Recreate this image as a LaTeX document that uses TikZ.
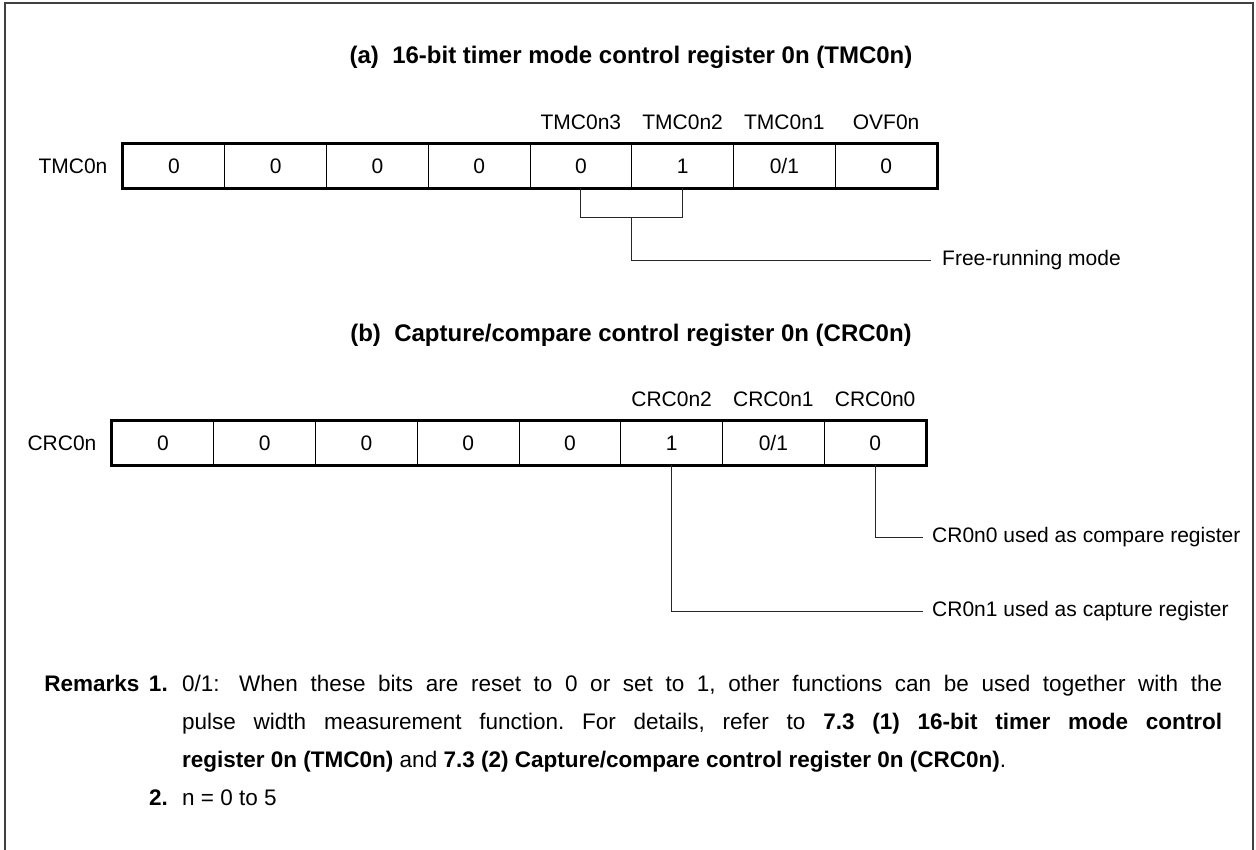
\documentclass[tikz,border=0pt]{standalone}
\usepackage{fontspec}
\setmainfont{Liberation Sans}
\usetikzlibrary{calc}
\newcommand\zeroone{0/1}
\newcommand\lblfont{\fontsize{21bp}{25bp}\selectfont}
\newcommand\remfont{\fontsize{22.5bp}{27bp}\selectfont}
\frenchspacing
\begin{document}
\begin{tikzpicture}[x=1bp,y=-1bp,
  cellbox/.style={draw, line width=0.8bp, minimum width=101.75bp, minimum height=44bp, inner sep=0pt, font=\lblfont},
  regbox/.style={line width=2.6bp},
  regname/.style={anchor=east, inner sep=0pt, font=\lblfont},
  bitname/.style={anchor=center, inner sep=0pt, font=\lblfont},
  conn/.style={line width=0.9bp, draw=black!85},
  desc/.style={anchor=west, inner xsep=9bp, inner ysep=0pt, font=\lblfont},
  titletext/.style={inner sep=0pt, font=\fontsize{24bp}{28bp}\selectfont\bfseries},
  remtext/.style={inner sep=0pt, font=\remfont},
  frame/.style={line width=2bp, draw=black!75}]
\useasboundingbox (0,0) rectangle (1256,850);
% outer frame (open at the bottom)
\draw[frame] (5,850) -- (5,3) -- (1253,3) -- (1253,850);

% (a) TMC0n
\node[titletext] (ta) at (631,57) {(a)\ \ 16-bit timer mode control register 0n (TMC0n)};
\foreach \i/\v in {1/0,2/0,3/0,4/0,5/0,6/1,7/\zeroone,8/0}
  \node[cellbox] (t\i) at ({123+(\i-0.5)*101.75},166) {\v};
\draw[regbox] (t1.north west) rectangle (t8.south east);
\node[regname] (tmc) at ([xshift=-15bp]t1.west) {TMC0n};
\node[bitname] (lt5) at ([yshift=21bp]t5.north) {TMC0n3};
\node[bitname] (lt6) at ([yshift=21bp]t6.north) {TMC0n2};
\node[bitname] (lt7) at ([yshift=21bp]t7.north) {TMC0n1};
\node[bitname] (lt8) at ([yshift=21bp]t8.north) {OVF0n};
\draw[conn] (t5.south) -- ++(0,29) -| (t6.south);
\coordinate (tj) at ($(t5.south)!0.5!(t6.south)+(0,29)$);
\node[desc, inner xsep=11bp] (fr) at (931,260) {Free-running mode};
\draw[conn] (tj) |- (fr.west);

% (b) CRC0n
\node[titletext] (tb) at (631,335) {(b)\ \ Capture/compare control register 0n (CRC0n)};
\foreach \i/\v in {1/0,2/0,3/0,4/0,5/0,6/1,7/\zeroone,8/0}
  \node[cellbox] (c\i) at ({112+(\i-0.5)*101.75},443) {\v};
\draw[regbox] (c1.north west) rectangle (c8.south east);
\node[regname] (crc) at ([xshift=-15bp]c1.west) {CRC0n};
\node[bitname] (lc6) at ([yshift=21bp]c6.north) {CRC0n2};
\node[bitname] (lc7) at ([yshift=21bp]c7.north) {CRC0n1};
\node[bitname] (lc8) at ([yshift=21bp]c8.north) {CRC0n0};
\node[desc] (cmp) at (923,537) {CR0n0 used as compare register};
\node[desc] (cap) at (923,611) {CR0n1 used as capture register};
\draw[conn] (c8.south) |- (cmp.west);
\draw[conn] (c6.south) |- (cap.west);

% Remarks
\node[remtext, anchor=base east] (rk) at (168,691) {\textbf{Remarks\hspace{0.15em} 1.}};
\node[remtext, anchor=base west] (r1) at (182,691) {\hbox to 1040bp{0/1:\hspace{0.3em} When these bits are reset to 0 or set to 1, other functions can be used together with the}};
\node[remtext, anchor=base west] (r2) at (182,729) {\hbox to 1040bp{pulse width measurement function. For details, refer to \textbf{7.3 (1) 16-bit timer mode control}}};
\node[remtext, anchor=base west] (r3) at (182,767) {\textbf{register 0n (TMC0n)} and \textbf{7.3 (2) Capture/compare control register 0n (CRC0n)}.};
\node[remtext, anchor=base east] (rk2) at (168,805) {\textbf{2.}};
\node[remtext, anchor=base west] (r4) at (182,805) {n = 0 to 5};
\end{tikzpicture}
\end{document}
